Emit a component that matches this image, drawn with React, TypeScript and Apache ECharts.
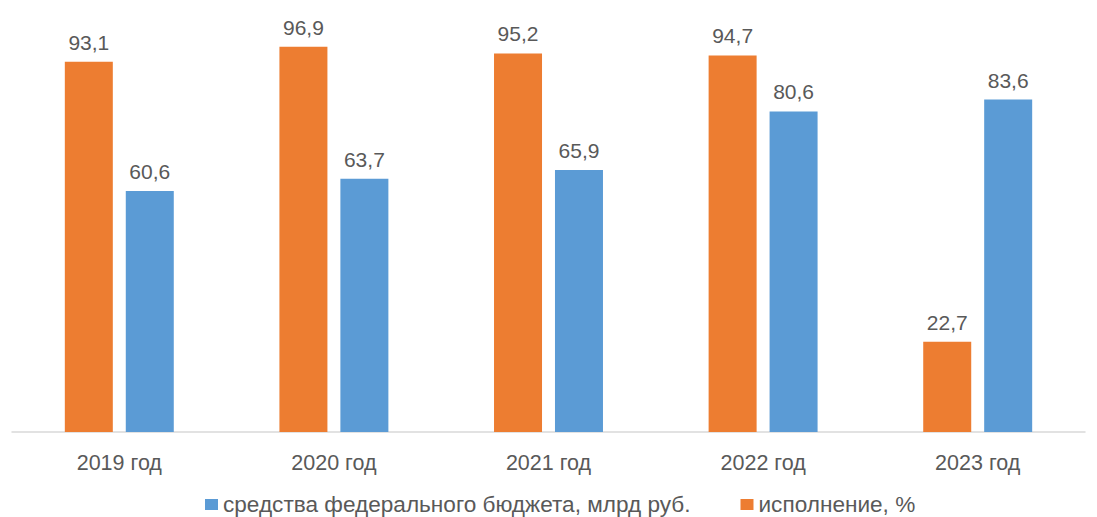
import React, { useEffect, useRef } from "react";
import * as echarts from "echarts";

const categories = ["2019 год", "2020 год", "2021 год", "2022 год", "2023 год"];
const executionPct = [93.1, 96.9, 95.2, 94.7, 22.7];
const federalFunds = [60.6, 63.7, 65.9, 80.6, 83.6];
const seriesNames = ["исполнение, %", "средства федерального бюджета, млрд руб."];

const fmt = (v: number) => v.toFixed(1).replace(".", ",");
const FONT = "Liberation Sans, Arial, sans-serif";

export default function App() {
  const ref = useRef<HTMLDivElement>(null);
  useEffect(() => {
    document.body.style.margin = "0";
    const chart = echarts.init(ref.current!, null, { renderer: "svg" });
    const labelStyle = {
      show: true,
      position: "top" as const,
      distance: 9,
      color: "#595959",
      fontSize: 21,
      fontFamily: FONT,
      formatter: (p: any) => fmt(p.value),
    };
    chart.setOption({
      animation: false,
      backgroundColor: "#ffffff",
      textStyle: { fontFamily: FONT },
      grid: { left: 12, right: 12, top: 34.3, bottom: 85, containLabel: false },
      legend: {
        data: [seriesNames[1], seriesNames[0]],
        left: 205,
        top: 493,
        padding: 0,
        icon: "rect",
        itemWidth: 13,
        itemHeight: 11,
        itemGap: 50,
        textStyle: { color: "#595959", fontSize: 22.6, lineHeight: 20, fontFamily: FONT },
      },
      xAxis: {
        type: "category",
        data: categories,
        axisLine: { lineStyle: { color: "#D9D9D9", width: 1.5 } },
        axisTick: { show: false },
        axisLabel: { color: "#595959", fontSize: 21.5, margin: 20, fontFamily: FONT },
      },
      yAxis: {
        type: "value",
        min: 0,
        max: 100,
        show: false,
        splitLine: { show: false },
      },
      series: [
        {
          name: seriesNames[0],
          type: "bar",
          data: executionPct,
          barWidth: 48,
          barGap: "27%",
          itemStyle: { color: "#ED7D31" },
          label: labelStyle,
        },
        {
          name: seriesNames[1],
          type: "bar",
          data: federalFunds,
          barWidth: 48,
          itemStyle: { color: "#5B9BD5" },
          label: labelStyle,
        },
      ],
    });
    return () => chart.dispose();
  }, []);
  return <div ref={ref} style={{ position: "absolute", left: 0, top: 0, width: 1097, height: 517 }} />;
}
